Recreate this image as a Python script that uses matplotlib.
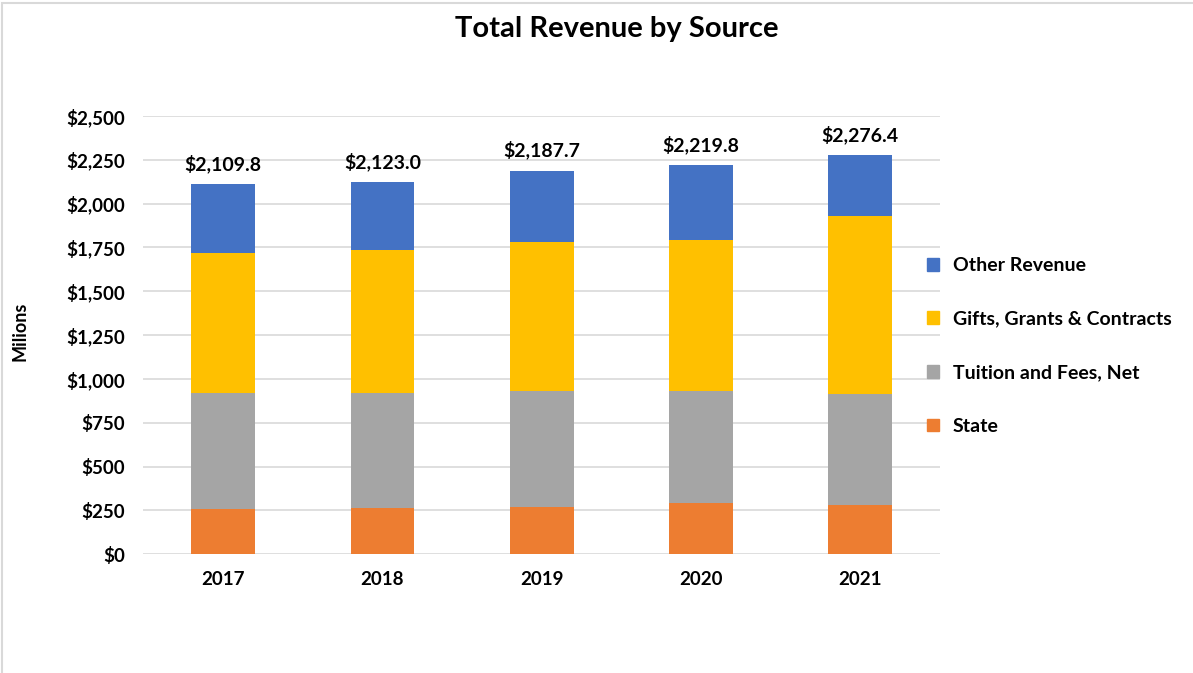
import matplotlib.pyplot as plt
import matplotlib.patches as mpatches
import numpy as np

plt.rcParams['font.family'] = ['Lato', 'DejaVu Sans']
plt.rcParams['font.weight'] = 'bold'

years = ['2017', '2018', '2019', '2020', '2021']
totals = [2109.8, 2123.0, 2187.7, 2219.8, 2276.4]
state = [260, 266, 272, 291, 280]
tuition = [658, 652, 658, 642, 636]
gifts = [802, 818, 851, 862, 1012]
# whatever is left of each total
other = [t - s - u - g for t, s, u, g in zip(totals, state, tuition, gifts)]

series = ['State', 'Tuition and Fees, Net', 'Gifts, Grants & Contracts', 'Other Revenue']
colors = ['#ED7D31', '#A5A5A5', '#FFC000', '#4472C4']

fig = plt.figure(figsize=(11.93, 6.73), dpi=100)
ax = fig.add_axes([0.1202, 0.1764, 0.6677, 0.6513])

x = np.arange(len(years))
bottom = np.zeros(len(years))
for vals, name, c in zip([state, tuition, gifts, other], series, colors):
    ax.bar(x, vals, 0.4, bottom=bottom, color=c, label=name, zorder=3)
    bottom += np.array(vals)

for xi, t in zip(x, totals):
    ax.annotate(f'${t:,.1f}', (xi, t), xytext=(0, 8), textcoords='offset points',
                ha='center', va='bottom', fontsize=14, fontweight='bold')

ax.set_xlim(-0.5, len(years) - 0.5)
ax.set_ylim(0, 2500)
ax.set_yticks(np.arange(0, 2501, 250))
ax.set_yticklabels([f'${v:,}' for v in range(0, 2501, 250)])
ax.set_xticks(x)
ax.set_xticklabels(years)
ax.tick_params(length=0, labelsize=13.5, pad=12)
ax.tick_params(axis='y', pad=13)
ax.grid(axis='y', color='#D9D9D9', linewidth=1.2, zorder=0)
for s in ax.spines.values():
    s.set_visible(False)

fig.text(0.517, 0.957, 'Total Revenue by Source', ha='center', va='center',
         fontsize=21, fontweight='bold')
fig.text(0.017, 0.507, 'Milions', rotation=90, ha='center', va='center',
         fontsize=13, fontweight='bold')

handles = [mpatches.Patch(color=c) for c in colors][::-1]
fig.legend(handles, series[::-1], loc='center left', bbox_to_anchor=(0.762, 0.486),
           frameon=False, fontsize=14, handlelength=0.62, handleheight=0.62,
           handletextpad=0.72, labelspacing=1.88)

# light chart-area border
fig.add_artist(mpatches.Rectangle((0.002, -0.01), 1.1, 1.005, transform=fig.transFigure,
                                  fill=False, edgecolor='#D9D9D9', linewidth=1.5))

fig.savefig('out.png', dpi=100)
